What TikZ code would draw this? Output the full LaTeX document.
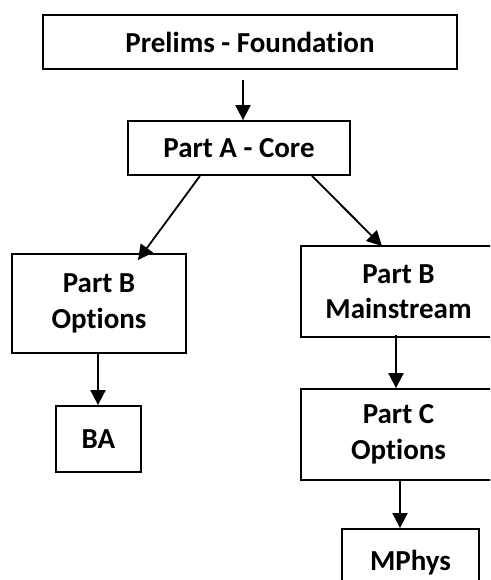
\documentclass[tikz,border=0pt]{standalone}
\usepackage{fontspec}
\setmainfont[Ligatures=NoCommon]{Carlito}
\usetikzlibrary{arrows.meta}
\begin{document}
\begin{tikzpicture}[x=1pt,y=-1pt,
  box/.style={draw=black,line width=1.8pt,fill=white,inner sep=0pt,align=center,
    font=\fontsize{29}{35.5}\selectfont\bfseries},
  arr/.style={line width=1.8pt,-{Triangle[length=15pt,width=15pt]}}]
\useasboundingbox (0,0) rectangle (490,580);
\clip (0,0) rectangle (490,580);
\node[box,minimum width=414pt,minimum height=54pt] (pre) at (250,42) {Prelims - Foundation};
\node[box,minimum width=222pt,minimum height=54pt] (a) at (239,148) {Part A - Core};
\node[box,minimum width=174pt,minimum height=99pt] (bo) at (99,303.5) {Part B\\Options};
\node[box,minimum width=195pt,minimum height=91pt] (bm) at (398.5,291.5) {Part B\\Mainstream};
\node[box,minimum width=85pt,minimum height=66pt] (ba) at (98.5,439) {BA};
\node[box,minimum width=195pt,minimum height=91pt] (pc) at (398.5,434.5) {Part C\\Options};
\node[box,minimum width=137pt,minimum height=67pt] (mp) at (410.5,562.5) {MPhys};
\draw[arr] ([xshift=-7pt,yshift=-10pt]pre.south) -- ([xshift=4pt]a.north);
\draw[arr] ([xshift=-39pt]a.south) -- ([xshift=39pt,yshift=-7pt]bo.north);
\draw[arr] ([xshift=73pt]a.south) -- ([xshift=-16.5pt,yshift=-1pt]bm.north);
\draw[arr] ([xshift=-1pt]bo.south) -- ([xshift=-0.5pt]ba.north);
\draw[arr] ([xshift=-2.5pt,yshift=3pt]bm.south) -- ([xshift=-2.5pt]pc.north);
\draw[arr] ([xshift=1.5pt]pc.south) -- ([xshift=-10.5pt]mp.north);
\end{tikzpicture}
\end{document}
